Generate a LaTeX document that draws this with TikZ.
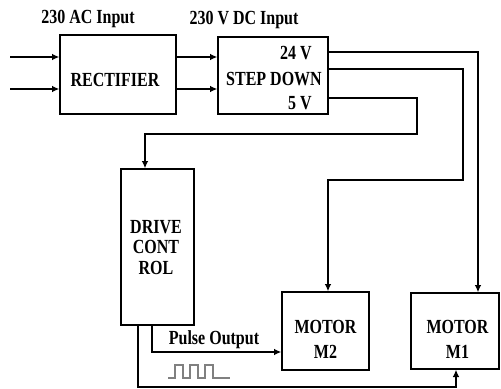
\documentclass[tikz,border=0pt]{standalone}
\usepackage{fontspec}
\setmainfont{Liberation Serif}[FakeStretch=0.8]
\usetikzlibrary{arrows.meta,positioning,calc}

\def\px{0.75pt}

\begin{document}
\begin{tikzpicture}[x=0.75pt,y=-0.75pt,
    font=\fontsize{15}{18}\selectfont\bfseries,
    blk/.style={draw, line width=1pt, inner sep=0pt},
    wire/.style={line width=1pt},
    arr/.style={wire, -{Latex[length=5.5pt,width=5pt]}},
    txt/.style={inner sep=0pt, align=center}]

  \useasboundingbox (0,0) rectangle (501,389);

  % Blocks
  \node[blk, minimum width=116*\px, minimum height=79*\px] (rect) at (118,74.5) {};
  \node[blk, minimum width=110*\px, minimum height=77*\px] (sd) at (273,75.5) {};
  \node[blk, minimum width=73*\px, minimum height=156*\px] (drv) at (157.5,247) {};
  \node[blk, minimum width=87*\px, minimum height=78*\px] (m2) at (325.5,331) {};
  \node[blk, minimum width=88*\px, minimum height=76*\px] (m1) at (455,331) {};

  % Texts
  \node[txt] (acin) at (88,19) {230 AC Input};
  \node[txt] (dcin) at (244,20) {230 V DC Input};
  \node[txt] (rectxt) at (115,80) {RECTIFIER};
  \node[txt, anchor=east] (v24) at (312,53) {24 V};
  \node[txt] (sdtxt) at (274,79) {STEP DOWN};
  \node[txt, anchor=east] (v5) at (312,103) {5 V};
  \node[txt, font=\fontsize{15}{15.4}\selectfont\bfseries] (drvtxt) at (156,247.5) {DRIVE\\CONT\\ROL};
  \node[txt, font=\fontsize{15}{18.75}\selectfont\bfseries] (m2txt) at (325.5,339.5) {MOTOR\\M2};
  \node[txt, font=\fontsize{15}{18.75}\selectfont\bfseries] (m1txt) at (457.5,339) {MOTOR\\M1};
  \node[txt] (pulse) at (214,340) {Pulse Output};

  % Free ends and corners
  \coordinate (in1) at (10,57);
  \coordinate (in2) at (10,89);
  \coordinate (c24) at (478,52);
  \coordinate (c12) at (463,69);
  \coordinate (c5) at (417,98);
  \coordinate (j2) at (328,180);
  \coordinate (j5) at (145,134);
  \coordinate (p) at (152,352);
  \coordinate (f) at (138,387);
  \coordinate (f1) at (456,387);

  % Inputs
  \draw[arr] (in1) -- (in1 -| rect.west);
  \draw[arr] (in2) -- (in2 -| rect.west);
  \draw[arr] (rect.east |- in1) -- (sd.west |- in1);
  \draw[arr] (rect.east |- in2) -- (sd.west |- in2);

  % Supplies
  \draw[arr] (sd.east |- c24) -- (c24) -- (c24 |- m1.north);
  \draw[arr] (sd.east |- c12) -- (c12) |- (j2) -- (j2 |- m2.north);
  \draw[arr] (sd.east |- c5) -- (c5) |- (j5) -- (j5 |- drv.north);

  % Drive outputs
  \draw[arr] (p |- drv.south) -- (p) -- (p -| m2.west);
  \draw[arr] (f |- drv.south) -- (f) -- (f1) -- (f1 |- m1.south);

  % Pulse train
  \draw[gray, line width=0.8pt] (168,378)
    \foreach \k in {0,1,2} { -- ({175+15*\k},378) -- ++(0,-13) -- ++(8,0) -- ++(0,13) }
    -- (230,378);

\end{tikzpicture}
\end{document}
